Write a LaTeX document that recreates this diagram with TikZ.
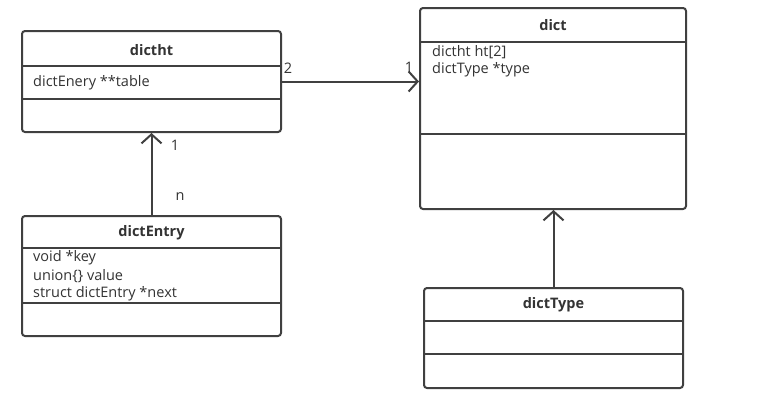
\documentclass[tikz,border=0pt]{standalone}
\usepackage{fontspec}
\setmainfont{Open Sans}
\usetikzlibrary{arrows.meta}
\definecolor{ink}{HTML}{404040}
\definecolor{txt}{HTML}{333333}
\begin{document}
\begin{tikzpicture}[x=1pt,y=-1pt,
  classbox/.style={draw=ink,line width=2pt,rounded corners=3pt,inner sep=0pt,fill=white},
  divider/.style={draw=ink,line width=1.8pt},
  title/.style={font=\fontsize{14.5}{17}\selectfont\bfseries,text=txt,inner sep=0pt},
  member/.style={font=\fontsize{14.5}{17}\selectfont,text=txt,inner sep=0pt,anchor=west},
  mult/.style={font=\fontsize{14.5}{17}\selectfont,text=txt,inner sep=0pt},
  assoc/.style={draw=ink,line width=2pt,-{Straight Barb[length=9pt,width=20pt,line width=2pt]}}]
\useasboundingbox (0,0) rectangle (767,405);

% dictht
\node[classbox,minimum width=259pt,minimum height=101pt] (dictht) at (151.5,81.5) {};
\draw[divider] (22,66) -- (281,66);
\draw[divider] (22,99) -- (281,99);
\node[title] (dicthtT) at (151.5,50) {dictht};
\node[member] (dicthtA) at (33,83) {dictEnery **table};

% dict
\node[classbox,minimum width=266pt,minimum height=201pt] (dict) at (553,108.5) {};
\draw[divider] (420,42) -- (686,42);
\draw[divider] (420,134) -- (686,134);
\node[title] (dictT) at (553,25) {dict};
\node[member] (dictA) at (432,52) {dictht ht[2]};
\node[member] (dictB) at (432,70) {dictType *type};

% dictEntry
\node[classbox,minimum width=259pt,minimum height=120pt] (entry) at (151.5,276) {};
\draw[divider] (22,248) -- (281,248);
\draw[divider] (22,303) -- (281,303);
\node[title] (entryT) at (151.5,233) {dictEntry};
\node[member] (entryA) at (33,258) {void *key};
\node[member] (entryB) at (33,276) {union\{\} value};
\node[member] (entryC) at (33,294) {struct dictEntry *next};

% dictType
\node[classbox,minimum width=259pt,minimum height=100pt] (dtype) at (553.5,338) {};
\draw[divider] (424,321) -- (683,321);
\draw[divider] (424,354) -- (683,354);
\node[title] (dtypeT) at (553.5,305) {dictType};

% associations
\draw[assoc] (dictht.east) -- (dictht.east -| dict.west);
\node[mult] (m2) at (288,68) {2};
\node[mult] (m1a) at (409,67) {1};

\draw[assoc] (entry.north) -- (dictht.south);
\node[mult] (m1b) at (175,145) {1};
\node[mult] (mn) at (180,197) {n};

\draw[assoc] (dtype.north) -- (dtype.north |- dict.south);
\end{tikzpicture}
\end{document}
